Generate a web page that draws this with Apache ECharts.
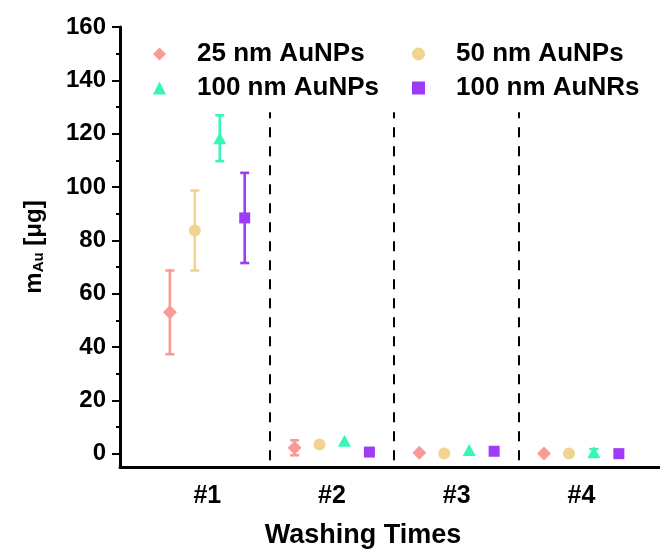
<!DOCTYPE html>
<html>
<head>
<meta charset="utf-8">
<script src="https://cdn.jsdelivr.net/npm/echarts@6/dist/echarts.min.js"></script>
<style>
  html, body { margin: 0; padding: 0; background: #ffffff; }
  #chart { width: 660px; height: 549px; }
</style>
</head>
<body>
<div id="chart"></div>
<script>
// Washing steps and the four gold nanoparticle samples
const categories = ['#1', '#2', '#3', '#4'];
const seriesNames = ['25 nm AuNPs', '50 nm AuNPs', '100 nm AuNPs', '100 nm AuNRs'];

// Mean released gold mass (µg) per washing step
const mass25nm = [53.0, 2.2, 0.3, 0.1];
const mass50nm = [83.7, 3.4, 0.1, 0.1];
const mass100nm = [118.3, 4.8, 1.4, 0.5];
const mass100nmRods = [88.4, 0.6, 0.9, 0.0];

// Standard deviations (µg)
const err25nm = [15.7, 2.8, 0, 0];
const err50nm = [15.0, 0, 0, 0];
const err100nm = [8.6, 0, 0, 1.2];
const err100nmRods = [16.9, 0, 0, 0];

// Y axis tick values
const yTicks = [0, 20, 40, 60, 80, 100, 120, 140, 160];
const yMinorTicks = [10, 30, 50, 70, 90, 110, 130, 150];

// Dashed separators between washing steps
const separators = [1.5, 2.5, 3.5];

const FONT = "'Liberation Sans', Arial, Helvetica, sans-serif";
const colors = ['#FA9A98', '#F2D492', '#36F6B8', '#9E3BF7'];
const symbols = ['diamond', 'circle', 'triangle', 'rect'];
const symbolSizes = [14, 12, [13, 12], 11];
const offsets = [-0.3, -0.1, 0.1, 0.3];

const means = [mass25nm, mass50nm, mass100nm, mass100nmRods];
const errs = [err25nm, err50nm, err100nm, err100nmRods];

const chart = echarts.init(document.getElementById('chart'), null, { renderer: 'canvas' });

const series = [];
// marker series first so legend icons follow their symbols
means.forEach((vals, i) => {
  series.push({
    name: seriesNames[i],
    type: 'scatter',
    symbol: symbols[i],
    symbolSize: symbolSizes[i],
    itemStyle: { color: colors[i], opacity: 1 },
    z: 3,
    data: vals.map((v, k) => [k + 1 + offsets[i], v])
  });
});
// error bars
means.forEach((vals, i) => {
  series.push({
    name: seriesNames[i],
    type: 'custom',
    z: 2,
    silent: true,
    data: vals.map((v, k) => [k + 1 + offsets[i], v - errs[i][k], v + errs[i][k]]),
    renderItem: function (params, api) {
      const lo = api.value(2) - api.value(1);
      if (lo <= 0) return null;
      const x = api.value(0);
      const pLow = api.coord([x, api.value(1)]);
      const pHigh = api.coord([x, api.value(2)]);
      const half = 4.5;
      const style = { stroke: colors[i], lineWidth: 2.6, fill: null };
      return {
        type: 'group',
        children: [
          { type: 'line', shape: { x1: pLow[0], y1: pLow[1], x2: pHigh[0], y2: pHigh[1] }, style: style },
          { type: 'line', shape: { x1: pLow[0] - half, y1: pLow[1], x2: pLow[0] + half, y2: pLow[1] }, style: style },
          { type: 'line', shape: { x1: pHigh[0] - half, y1: pHigh[1], x2: pHigh[0] + half, y2: pHigh[1] }, style: style }
        ]
      };
    }
  });
});
// separators between washing steps
series.push({
  type: 'custom',
  name: 'separators',
  silent: true,
  z: 1,
  data: separators.map(s => [s, -2.5, 128]),
  renderItem: function (params, api) {
    const p1 = api.coord([api.value(0), api.value(1)]);
    const p2 = api.coord([api.value(0), api.value(2)]);
    return {
      type: 'line',
      shape: { x1: Math.round(p1[0]), y1: p1[1], x2: Math.round(p2[0]), y2: p2[1] },
      style: { stroke: '#000', lineWidth: 2, lineDash: [10, 9] }
    };
  }
});

const legendText = { fontSize: 26, fontWeight: 'bold', color: '#000', fontFamily: FONT, padding: [0, 0, 0, 26] };

const option = {
  animation: false,
  backgroundColor: '#ffffff',
  grid: { left: 120, right: 0, top: 27, bottom: 82, containLabel: false, outerBoundsMode: 'none' },
  legend: [
    {
      data: [seriesNames[0], seriesNames[2]],
      orient: 'vertical', left: 153, top: 41, padding: 0,
      itemWidth: 13, itemHeight: 13, itemGap: 8,
      textStyle: legendText, selectedMode: false
    },
    {
      data: [seriesNames[1], seriesNames[3]],
      orient: 'vertical', left: 412, top: 41, padding: 0,
      itemWidth: 13, itemHeight: 13, itemGap: 8,
      textStyle: legendText, selectedMode: false
    }
  ],
  xAxis: {
    type: 'value',
    min: 0.3, max: 4.63,
    splitLine: { show: false },
    axisLine: { show: true, onZero: false, lineStyle: { color: '#000', width: 3 } },
    axisTick: { show: false },
    axisLabel: {
      customValues: [1, 2, 3, 4],
      formatter: v => categories[Math.round(v) - 1],
      margin: 17, fontSize: 25, fontWeight: 'bold', color: '#000', fontFamily: FONT
    },
    name: 'Washing Times',
    nameLocation: 'middle',
    nameGap: 55,
    nameTextStyle: { fontSize: 27, fontWeight: 'bold', color: '#000', fontFamily: FONT, padding: [0, 54, 0, 0] }
  },
  yAxis: [
    {
      type: 'value',
      min: -5, max: 160,
      splitLine: { show: false },
      axisLine: { show: true, onZero: false, lineStyle: { color: '#000', width: 3 } },
      axisTick: { show: true, customValues: yTicks, length: 8, inside: false, lineStyle: { color: '#000', width: 2 } },
      axisLabel: {
        customValues: yTicks,
        margin: 14, fontSize: 24, fontWeight: 'bold', color: '#000', fontFamily: FONT
      },
      name: 'm{sub|Au} [μg]',
      nameLocation: 'middle',
      nameRotate: 90,
      nameGap: 74,
      nameTextStyle: {
        fontSize: 24, fontWeight: 'bold', color: '#000', fontFamily: FONT,
        rich: {
          sub: { fontSize: 15, fontWeight: 'bold', color: '#000', fontFamily: FONT, verticalAlign: 'bottom' }
        }
      }
    },
    {
      type: 'value',
      min: -5, max: 160,
      position: 'left',
      splitLine: { show: false },
      axisLine: { show: false },
      axisLabel: { show: false },
      axisTick: { show: true, customValues: yMinorTicks, length: 4, lineStyle: { color: '#000', width: 2 } }
    }
  ],
  series: series
};

chart.setOption(option);
</script>
</body>
</html>
